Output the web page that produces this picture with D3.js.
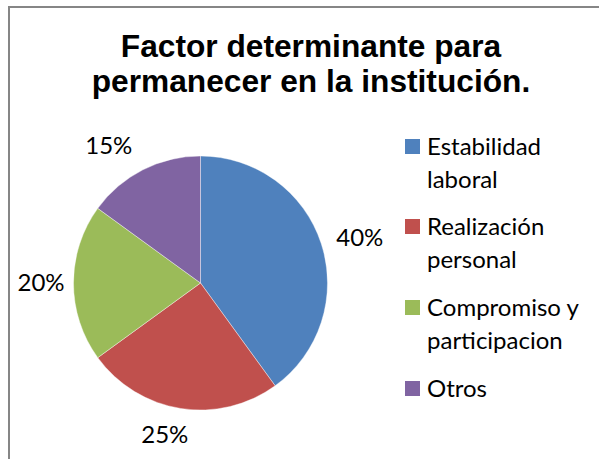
<!DOCTYPE html>
<html>
<head>
<meta charset="utf-8">
<script src="https://cdn.jsdelivr.net/npm/d3@7"></script>
<style>
  html, body { margin: 0; padding: 0; background: #fff; }
  svg { display: block; }
</style>
</head>
<body>
<script>
const titleLines = ["Factor determinante para", "permanecer en la institución."];
const categories = ["Estabilidad laboral", "Realización personal", "Compromiso y participacion", "Otros"];
const legendLines = [["Estabilidad", "laboral"], ["Realización", "personal"], ["Compromiso y", "participacion"], ["Otros"]];
const values = [40, 25, 20, 15];
const labels = ["40%", "25%", "20%", "15%"];
const colors = ["#4F81BD", "#C0504D", "#9BBB59", "#8064A2"];

const W = 599, H = 459;
const svg = d3.select("body").append("svg").attr("width", W).attr("height", H);

svg.append("rect").attr("x", 9).attr("y", 7).attr("width", 620).attr("height", 480)
  .attr("fill", "#fff").attr("stroke", "#868686").attr("stroke-width", 2);

// Title
const title = svg.append("text").attr("text-anchor", "middle")
  .attr("font-family", "Liberation Sans, Arial, sans-serif")
  .attr("font-weight", "bold").attr("font-size", 31.7).attr("fill", "#000");
titleLines.forEach((t, i) => {
  title.append("tspan").attr("x", 311).attr("y", 57 + i * 35).text(t);
});

// Pie
const cx = 200.5, cy = 283, r = 127;
const pie = d3.pie().sort(null).value(d => d)(values);
const arc = d3.arc().innerRadius(0).outerRadius(r);
const g = svg.append("g").attr("transform", `translate(${cx},${cy})`);
g.selectAll("path").data(pie).join("path")
  .attr("d", arc).attr("fill", (d, i) => colors[i])
  .attr("stroke", "#fff").attr("stroke-width", 0.4);

// Labels outside end (small layout nudges to match the original placement)
const labelFont = "Lato, 'Open Sans', sans-serif";
const labelArc = d3.arc().innerRadius(r + 31).outerRadius(r + 31);
const nudge = [[9, 4], [-11, -4], [-1.5, 0], [-20, 4]];
g.selectAll("text.lbl").data(pie).join("text").attr("class", "lbl")
  .attr("text-anchor", "middle")
  .attr("font-family", labelFont).attr("font-size", 24).attr("fill", "#000")
  .attr("x", (d, i) => labelArc.centroid(d)[0] + nudge[i][0])
  .attr("y", (d, i) => labelArc.centroid(d)[1] + 8 + nudge[i][1])
  .text((d, i) => labels[i]);

// Legend
const leg = svg.append("g");
const itemY = [139, 219, 300, 381];
categories.forEach((c, i) => {
  leg.append("rect").attr("x", 405).attr("y", itemY[i]).attr("width", 15).attr("height", 15)
    .attr("fill", colors[i]);
  const t = leg.append("text").attr("font-family", labelFont).attr("font-size", 24).attr("fill", "#000");
  legendLines[i].forEach((ln, j) => {
    t.append("tspan").attr("x", 427).attr("y", itemY[i] + 16 + j * 32.5).text(ln);
  });
});
</script>
</body>
</html>
